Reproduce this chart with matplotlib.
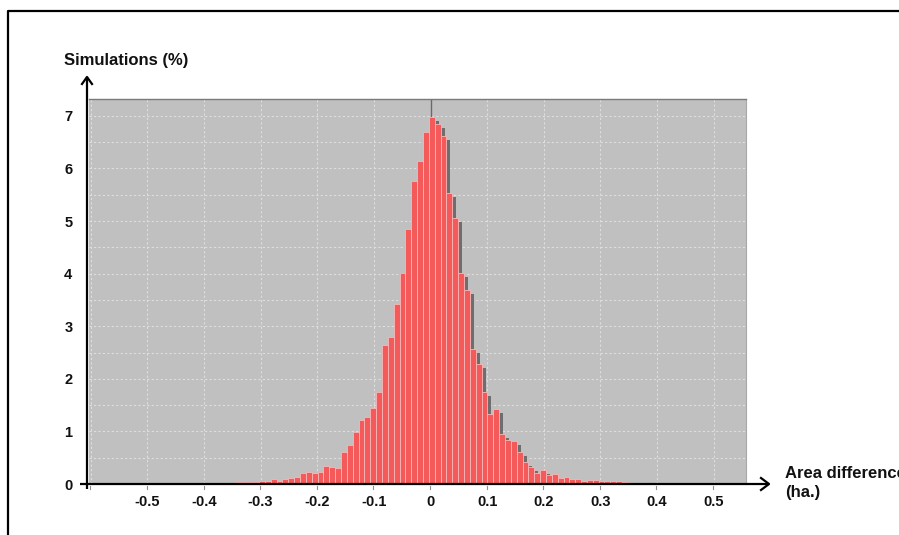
import numpy as np
import matplotlib
matplotlib.use("Agg")
import matplotlib.pyplot as plt
from matplotlib.lines import Line2D

# ---------------- data ----------------
bin_width = 0.01034          # width of one histogram class (ha.)
first_edge = -0.5614         # left edge of the first class (ha.)
pct = [  # simulations (%) per class, from left to right
    0.02, 0, 0, 0, 0, 0, 0, 0, 0, 0,
    0, 0, 0, 0, 0, 0.01, 0.01, 0.01, 0.02, 0.02,
    0.02, 0.03, 0.03, 0.03, 0.04, 0.05, 0.05, 0.10, 0.06, 0.10,
    0.11, 0.14, 0.20, 0.23, 0.20, 0.23, 0.35, 0.32, 0.30, 0.60,
    0.74, 0.99, 1.22, 1.27, 1.44, 1.75, 2.64, 2.79, 3.42, 4.02,
    4.84, 5.76, 6.14, 6.69, 6.98, 6.84, 6.62, 5.53, 5.05, 4.02,
    3.69, 2.57, 2.28, 1.75, 1.34, 1.42, 0.95, 0.84, 0.82, 0.60,
    0.42, 0.32, 0.20, 0.26, 0.18, 0.19, 0.11, 0.14, 0.10, 0.10,
    0.06, 0.08, 0.07, 0.06, 0.05, 0.05, 0.06, 0.03, 0.02, 0.01,
    0, 0, 0.01, 0, 0, 0, 0, 0, 0, 0,
    0, 0, 0.01,
]
x_ticks = [-0.5, -0.4, -0.3, -0.2, -0.1, 0.0, 0.1, 0.2, 0.3, 0.4, 0.5]
x_tick_labels = ["-0.5", "-0.4", "-0.3", "-0.2", "-0.1", "0", "0.1", "0.2", "0.3", "0.4", "0.5"]
x_grid = [-0.6, -0.5, -0.4, -0.3, -0.2, -0.1, 0.0, 0.1, 0.2, 0.3, 0.4, 0.5]
y_ticks = [0, 1, 2, 3, 4, 5, 6, 7]
y_label = "Simulations (%)"
x_label_1 = "Area difference"
x_label_2 = "(ha.)"

# ---------------- figure ----------------
plt.rcParams["font.family"] = ["Liberation Sans", "DejaVu Sans"]
W, H = 899, 535
fig = plt.figure(figsize=(W / 100, H / 100), dpi=100)
fig.patch.set_facecolor("white")

def fx(px):
    return px / W

def fy(py):
    return 1 - py / H

ax = fig.add_axes([fx(89), fy(484), (746 - 89) / W, (484 - 99) / H])
ax.set_facecolor("#C0C0C0")
ax.set_xlim(-0.603, 0.557)
ax.set_ylim(0, 7.32)

lefts = first_edge + np.arange(len(pct)) * bin_width
vals = np.array(pct)

# grid
for g in x_grid:
    ax.axvline(g, color="#DEDEDE", lw=0.8, ls=(0, (2, 2)), zorder=0.5)
for g in np.arange(0.5, 7.4, 0.5):
    ax.axhline(g, color="#DEDEDE", lw=0.8, ls=(0, (2, 2)), zorder=0.5)
ax.axvline(0, color="#6A6A6A", lw=1.0, zorder=0.8)

# shadow of the bars
dx, dy = 0.0072, 0.075
ax.bar(lefts + dx, np.clip(vals - dy, 0, None), width=bin_width, align="edge",
       color="#6E6E6E", linewidth=0, zorder=1)
# bars
ax.bar(lefts, vals, width=bin_width, align="edge", color="#F45A5A",
       edgecolor="#F9B8B8", linewidth=0.6, zorder=2)

ax.set_xticks(x_ticks)
ax.set_xticklabels(x_tick_labels, fontsize=10.5, fontweight="bold", color="#111111")
ax.set_yticks(y_ticks)
ax.set_yticklabels([str(v) for v in y_ticks], fontsize=10.5, fontweight="bold", color="#111111")
ax.tick_params(axis="x", length=0, pad=8)
ax.tick_params(axis="y", length=0, pad=12)

for s in ("left", "bottom"):
    ax.spines[s].set_visible(False)
ax.spines["top"].set_color("#7A7A7A")
ax.spines["top"].set_linewidth(1.0)
ax.spines["right"].set_color("#A8A8A8")
ax.spines["right"].set_linewidth(0.8)

# small ticks under the x axis
for g in x_grid:
    px = 430 + g * 566
    fig.add_artist(Line2D([fx(px), fx(px)], [fy(486), fy(489)],
                          transform=fig.transFigure, color="#909090", lw=0.8))

# axis lines with open arrow heads
lw = 1.6
fig.add_artist(Line2D([fx(80), fx(769)], [fy(484), fy(484)], transform=fig.transFigure,
                      color="black", lw=lw, solid_capstyle="butt"))
fig.add_artist(Line2D([fx(761), fx(769), fx(761)], [fy(478), fy(484), fy(490)],
                      transform=fig.transFigure, color="black", lw=lw))
fig.add_artist(Line2D([fx(87), fx(87)], [fy(489), fy(77)], transform=fig.transFigure,
                      color="black", lw=lw, solid_capstyle="butt"))
fig.add_artist(Line2D([fx(82), fx(87), fx(92)], [fy(84), fy(77), fy(84)],
                      transform=fig.transFigure, color="black", lw=lw))

# axis titles
fig.text(fx(64), fy(60), y_label, fontsize=12, fontweight="bold", ha="left", va="center",
         color="#111111")
fig.text(fx(785), fy(474), x_label_1, fontsize=12, fontweight="bold", ha="left",
         va="center", color="#111111")
fig.text(fx(785), fy(493), x_label_2, fontsize=12, fontweight="bold", ha="left",
         va="center", color="#111111")

# outer frame
fig.add_artist(Line2D([fx(8), fx(8), fx(905)], [fy(540), fy(11), fy(11)],
                      transform=fig.transFigure, color="black", lw=1.6))

fig.savefig("out.png", dpi=100, facecolor="white")
